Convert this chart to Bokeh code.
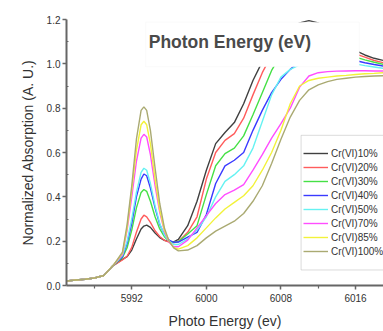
from bokeh.plotting import figure
from bokeh.models import (Range1d, FixedTicker, PrintfTickFormatter, Legend, LegendItem,
                          BoxAnnotation, Label)
from bokeh.embed import file_html
from bokeh.resources import INLINE

energy = [5985, 5986, 5987, 5988, 5989, 5990, 5991, 5991.5, 5992, 5992.5, 5993, 5993.3,
          5993.6, 5994, 5994.5, 5995, 5995.5, 5996, 5996.5, 5997, 5998, 5999, 6000, 6001,
          6002, 6003, 6004, 6005, 6006, 6007, 6008, 6009, 6010, 6011, 6012, 6013, 6014,
          6015, 6016, 6017, 6018, 6019]

pre = [0.020, 0.025, 0.028, 0.034, 0.045, 0.090]

cr10 = pre + [0.118, 0.130, 0.160, 0.210, 0.255, 0.268, 0.272, 0.262, 0.237, 0.216, 0.204,
              0.198, 0.197, 0.208, 0.270, 0.380, 0.520, 0.640, 0.690, 0.735, 0.820, 0.925,
              1.010, 1.070, 1.120, 1.160, 1.185, 1.195, 1.185, 1.150, 1.110, 1.080, 1.060,
              1.040, 1.025, 1.015]
cr20 = pre + [0.115, 0.132, 0.172, 0.240, 0.300, 0.317, 0.310, 0.285, 0.247, 0.221, 0.204,
              0.196, 0.193, 0.198, 0.240, 0.310, 0.480, 0.600, 0.655, 0.685, 0.755, 0.860,
              0.960, 1.040, 1.090, 1.130, 1.155, 1.160, 1.150, 1.120, 1.090, 1.065, 1.045,
              1.030, 1.015, 1.005]
cr30 = pre + [0.125, 0.170, 0.250, 0.350, 0.420, 0.433, 0.425, 0.380, 0.310, 0.255, 0.220,
              0.200, 0.195, 0.198, 0.232, 0.270, 0.410, 0.540, 0.595, 0.620, 0.675, 0.770,
              0.870, 0.970, 1.040, 1.080, 1.110, 1.120, 1.115, 1.090, 1.065, 1.045, 1.030,
              1.018, 1.007, 0.998]
cr40 = pre + [0.130, 0.190, 0.280, 0.400, 0.480, 0.503, 0.495, 0.440, 0.350, 0.275, 0.230,
              0.205, 0.195, 0.196, 0.218, 0.240, 0.320, 0.460, 0.540, 0.565, 0.600, 0.700,
              0.790, 0.870, 0.930, 0.975, 1.010, 1.040, 1.050, 1.045, 1.035, 1.025, 1.015,
              1.005, 0.997, 0.990]
cr50 = pre + [0.135, 0.200, 0.300, 0.420, 0.510, 0.529, 0.520, 0.460, 0.360, 0.280, 0.228,
              0.200, 0.185, 0.185, 0.210, 0.250, 0.310, 0.400, 0.470, 0.500, 0.540, 0.620,
              0.740, 0.860, 0.940, 0.975, 0.995, 1.010, 1.020, 1.020, 1.015, 1.007, 1.000,
              0.992, 0.986, 0.980]
cr70 = pre + [0.140, 0.250, 0.400, 0.560, 0.665, 0.682, 0.670, 0.590, 0.450, 0.330, 0.245,
              0.195, 0.175, 0.175, 0.205, 0.260, 0.315, 0.370, 0.410, 0.430, 0.455, 0.520,
              0.590, 0.665, 0.730, 0.800, 0.895, 0.945, 0.960, 0.965, 0.967, 0.968, 0.969,
              0.969, 0.968, 0.968]
cr85 = pre + [0.145, 0.260, 0.430, 0.610, 0.725, 0.741, 0.725, 0.640, 0.480, 0.340, 0.250,
              0.200, 0.172, 0.164, 0.180, 0.215, 0.260, 0.305, 0.345, 0.375, 0.405, 0.450,
              0.520, 0.600, 0.700, 0.820, 0.900, 0.925, 0.935, 0.940, 0.945, 0.948, 0.952,
              0.955, 0.957, 0.960]
cr100 = pre + [0.150, 0.275, 0.450, 0.660, 0.790, 0.806, 0.790, 0.700, 0.530, 0.370, 0.260,
               0.200, 0.170, 0.156, 0.160, 0.180, 0.215, 0.245, 0.268, 0.290, 0.325, 0.380,
               0.450, 0.550, 0.660, 0.760, 0.835, 0.883, 0.905, 0.920, 0.930, 0.935, 0.940,
               0.943, 0.945, 0.946]

labels = ["Cr(VI)10%", "Cr(VI)20%", "Cr(VI)30%", "Cr(VI)40%", "Cr(VI)50%",
          "Cr(VI)70%", "Cr(VI)85%", "Cr(VI)100%"]
series = [cr10, cr20, cr30, cr40, cr50, cr70, cr85, cr100]
colors = ["#404040", "#ff5c5c", "#45e045", "#3a3aff", "#66f2f2",
          "#ff4dff", "#f2f23a", "#aaaa72"]

x_major = [5992, 6000, 6008, 6016]
x_minor = [5988, 5996, 6004, 6012]
y_major = [0.0, 0.2, 0.4, 0.6, 0.8, 1.0, 1.2]
y_minor = [0.1, 0.3, 0.5, 0.7, 0.9, 1.1]

FONT = "Liberation Sans"

p = figure(width=383, height=331, output_backend="svg", toolbar_location=None,
           x_range=Range1d(5985, 6019), y_range=Range1d(0, 1.2),
           min_border_left=66, min_border_right=0, min_border_top=19, min_border_bottom=43)
p.outline_line_color = None
p.xgrid.visible = False
p.ygrid.visible = False
p.background_fill_color = "white"
p.border_fill_color = "white"

# axes
p.xaxis.ticker = FixedTicker(ticks=x_major, minor_ticks=x_minor)
p.yaxis.ticker = FixedTicker(ticks=y_major, minor_ticks=y_minor)
p.yaxis.formatter = PrintfTickFormatter(format="%.1f")
for ax in (p.xaxis, p.yaxis):
    ax.axis_line_color = "#666666"
    ax.axis_line_width = 2
    ax.major_tick_line_color = "#666666"
    ax.major_tick_line_width = 1.5
    ax.minor_tick_line_color = "#666666"
    ax.minor_tick_line_width = 1.2
    ax.major_tick_out = 4
    ax.major_tick_in = 0
    ax.major_label_text_font = FONT
    ax.major_label_text_font_size = "10px"
    ax.major_label_text_color = "#333333"
    ax.axis_label_text_font = FONT
    ax.axis_label_text_font_size = "14px"
    ax.axis_label_text_font_style = "normal"
    ax.axis_label_text_color = "#333333"
p.xaxis.minor_tick_out = 3
p.xaxis.minor_tick_in = 0
p.yaxis.minor_tick_out = 0
p.yaxis.minor_tick_in = 2
p.xaxis.major_label_standoff = 4
p.yaxis.major_label_standoff = 2
p.xaxis.axis_label = "Photo Energy (ev)"
p.yaxis.axis_label = "Normalized Absorption (A. U.)"
p.xaxis.axis_label_standoff = 8
p.yaxis.axis_label_standoff = 8

items = []
for lab, ys, col in zip(labels, series, colors):
    r = p.line(energy, ys, line_color=col, line_width=1.4)
    items.append(LegendItem(label=lab, renderers=[r]))

# legend frame
p.add_layout(BoxAnnotation(left=6010.16, right=6030, top=0.6775, bottom=0.070,
                           fill_color="white", fill_alpha=1.0,
                           line_color="#888888", line_width=1, level="overlay"))

legend = Legend(items=items, location=(237, 27), padding=0, margin=0, spacing=0,
                glyph_width=25, glyph_height=14, label_height=14, label_standoff=3,
                label_text_font=FONT, label_text_font_size="10px",
                label_text_color="#333333",
                background_fill_alpha=0, border_line_alpha=0)
p.add_layout(legend)

# white box with overlay title text
p.add_layout(BoxAnnotation(left=5993.49, right=6016.4, top=1.188, bottom=0.987,
                           fill_color="white", fill_alpha=1.0, line_color="#eeeeee",
                           line_width=1, level="overlay"))
p.add_layout(Label(x=5993.82, y=1.097, text="Photon Energy (eV)",
                   text_font=FONT, text_font_size="17.5px", text_font_style="bold",
                   text_color="#4a4a4a", text_baseline="alphabetic", level="overlay"))

open("out.html", "w").write(file_html(p, INLINE))
